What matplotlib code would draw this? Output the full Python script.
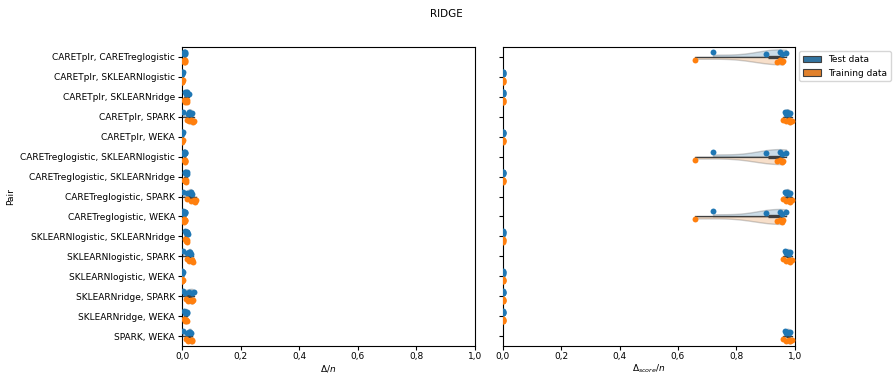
import numpy as np
import matplotlib
matplotlib.use('Agg')
import matplotlib.pyplot as plt
from matplotlib.patches import Patch
from matplotlib.ticker import FuncFormatter

plt.rcParams['font.size'] = 6.5
plt.rcParams['axes.linewidth'] = 0.8
plt.rcParams['xtick.major.size'] = 3
plt.rcParams['ytick.major.size'] = 3
plt.rcParams['xtick.major.pad'] = 1.5
plt.rcParams['ytick.major.pad'] = 2

# ===========================
# data
# ===========================
PAIRS = [
    "CARETplr, CARETreglogistic",
    "CARETplr, SKLEARNlogistic",
    "CARETplr, SKLEARNridge",
    "CARETplr, SPARK",
    "CARETplr, WEKA",
    "CARETreglogistic, SKLEARNlogistic",
    "CARETreglogistic, SKLEARNridge",
    "CARETreglogistic, SPARK",
    "CARETreglogistic, WEKA",
    "SKLEARNlogistic, SKLEARNridge",
    "SKLEARNlogistic, SPARK",
    "SKLEARNlogistic, WEKA",
    "SKLEARNridge, SPARK",
    "SKLEARNridge, WEKA",
    "SPARK, WEKA",
]

# delta / n  (left panel)
DELTA_TEST = [
    [0.005, 0.008, 0.010, 0.006, 0.009],
    [0.000, 0.001, 0.002, 0.000, 0.001],
    [0.008, 0.012, 0.018, 0.022, 0.015],
    [0.004, 0.020, 0.025, 0.030, 0.032],
    [0.000, 0.001, 0.002, 0.000, 0.001],
    [0.006, 0.008, 0.010, 0.007, 0.011],
    [0.008, 0.012, 0.018, 0.015, 0.010],
    [0.004, 0.018, 0.030, 0.035, 0.025],
    [0.004, 0.008, 0.010, 0.006, 0.009],
    [0.008, 0.012, 0.018, 0.020, 0.015],
    [0.002, 0.018, 0.025, 0.030, 0.028],
    [0.000, 0.001, 0.002, 0.000, 0.001],
    [0.003, 0.010, 0.025, 0.035, 0.040],
    [0.005, 0.010, 0.015, 0.018, 0.012],
    [0.003, 0.015, 0.025, 0.030, 0.028],
]
DELTA_TRAIN = [
    [0.006, 0.009, 0.011, 0.007, 0.010],
    [0.000, 0.001, 0.002, 0.001, 0.000],
    [0.007, 0.010, 0.015, 0.018, 0.012],
    [0.015, 0.025, 0.030, 0.038, 0.040],
    [0.000, 0.001, 0.002, 0.001, 0.000],
    [0.006, 0.009, 0.011, 0.008, 0.010],
    [0.006, 0.010, 0.014, 0.012, 0.009],
    [0.015, 0.030, 0.040, 0.045, 0.048],
    [0.005, 0.008, 0.010, 0.007, 0.009],
    [0.008, 0.012, 0.016, 0.018, 0.014],
    [0.015, 0.025, 0.035, 0.038, 0.032],
    [0.000, 0.001, 0.002, 0.001, 0.000],
    [0.012, 0.020, 0.030, 0.035, 0.038],
    [0.005, 0.010, 0.014, 0.016, 0.012],
    [0.012, 0.020, 0.030, 0.035, 0.033],
]

# delta_score / n  (right panel)
SPREAD_TEST = [0.72, 0.90, 0.95, 0.955, 0.97]
SPREAD_TRAIN = [0.66, 0.94, 0.95, 0.955, 0.96]
HIGH_TEST = [0.965, 0.97, 0.975, 0.98, 0.985]
HIGH_TRAIN = [0.96, 0.97, 0.98, 0.985, 0.99]
ZERO_TEST = [0.000, 0.000, 0.001, 0.000, 0.002]
ZERO_TRAIN = [0.000, 0.001, 0.000, 0.002, 0.000]

SCORE_KIND = ["spread", "zero", "zero", "high", "zero", "spread", "zero", "high",
              "spread", "zero", "high", "zero", "zero", "zero", "high"]
KIND_TEST = {"spread": SPREAD_TEST, "high": HIGH_TEST, "zero": ZERO_TEST}
KIND_TRAIN = {"spread": SPREAD_TRAIN, "high": HIGH_TRAIN, "zero": ZERO_TRAIN}
SCORE_TEST = [KIND_TEST[k] for k in SCORE_KIND]
SCORE_TRAIN = [KIND_TRAIN[k] for k in SCORE_KIND]

LABELS = ["Test data", "Training data"]
VIOLIN_COLORS = ["#3274a1", "#e1812c"]
POINT_COLORS = ["#1f77b4", "#ff7f0e"]
JITTER = [-0.05, 0.04, -0.02, 0.06, 0.0]


def draw_panel(ax, test, train):
    pos = np.arange(len(PAIRS))
    for vals, side, col in [(test, 'low', VIOLIN_COLORS[0]), (train, 'high', VIOLIN_COLORS[1])]:
        parts = ax.violinplot(vals, positions=pos, orientation='horizontal', widths=0.75,
                              showextrema=False, side=side)
        for body in parts['bodies']:
            body.set_facecolor(col)
            body.set_edgecolor('#3f3f3f')
            body.set_linewidth(1.0)
            body.set_alpha(0.25)
    # inner box
    for i in range(len(PAIRS)):
        allv = np.array(test[i] + train[i])
        q1, q3 = np.percentile(allv, [25, 75])
        ax.plot([allv.min(), allv.max()], [i, i], color='#3f3f3f', lw=0.9, zorder=3)
        ax.plot([q1, q3], [i, i], color='#3f3f3f', lw=2.4, solid_capstyle='butt', zorder=3)
    # strip points
    for vals, off, col in [(test, -0.2, POINT_COLORS[0]), (train, 0.2, POINT_COLORS[1])]:
        for i, v in enumerate(vals):
            ys = [i + off + JITTER[k % len(JITTER)] for k in range(len(v))]
            ax.scatter(v, ys, s=18, color=col, linewidths=0, zorder=4)
    ax.set_xlim(0, 1)
    ax.set_ylim(len(PAIRS) - 0.5, -0.5)
    ax.set_xticks(np.arange(0, 1.01, 0.2))
    ax.xaxis.set_major_formatter(FuncFormatter(lambda v, p: f"{v:.1f}".replace(".", ",")))
    ax.set_yticks(pos)


fig = plt.figure(figsize=(8.93, 3.75), dpi=100)
ax1 = fig.add_axes([0.204, 0.077, 0.328, 0.798])
ax2 = fig.add_axes([0.563, 0.077, 0.327, 0.798], sharey=ax1)

draw_panel(ax1, DELTA_TEST, DELTA_TRAIN)
ax1.set_yticklabels(PAIRS)
ax1.set_ylabel("Pair", labelpad=4)
ax1.set_xlabel(r"$\Delta/n$", labelpad=1)

draw_panel(ax2, SCORE_TEST, SCORE_TRAIN)
ax2.tick_params(axis='y', labelleft=False)
ax2.set_xlabel(r"$\Delta_{score}/n$", labelpad=1)

handles = [Patch(facecolor=c, edgecolor='#3f3f3f', linewidth=0.8) for c in VIOLIN_COLORS]
ax2.legend(handles, LABELS, loc='upper left', bbox_to_anchor=(1.0, 1.0))

fig.suptitle("RIDGE", y=0.975, fontsize=7.5)

plt.savefig("out.png", dpi=100)
plt.close()
